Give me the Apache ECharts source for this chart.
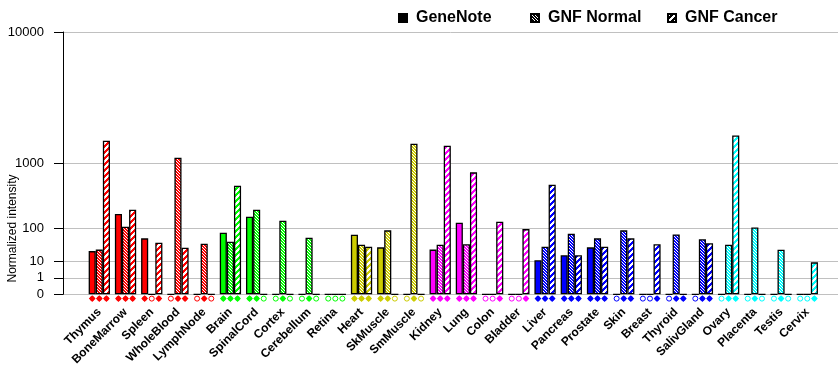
<!DOCTYPE html>
<html><head><meta charset="utf-8">
<script src="https://cdn.jsdelivr.net/npm/echarts@6/dist/echarts.min.js"></script>
<style>html,body{margin:0;padding:0;background:#fff}#c{width:840px;height:385px}</style>
</head><body><div id="c"></div>
<script>
const categories = ['Thymus','BoneMarrow','Spleen','WholeBlood','LymphNode','Brain','SpinalCord','Cortex','Cerebellum','Retina','Heart','SkMuscle','SmMuscle','Kidney','Lung','Colon','Bladder','Liver','Pancreas','Prostate','Skin','Breast','Thyroid','SalivGland','Ovary','Placenta','Testis','Cervix'];
const categoryColors = ['#FF0000','#FF0000','#FF0000','#FF0000','#FF0000','#00FF00','#00FF00','#00FF00','#00FF00','#00FF00','#CCCC00','#CCCC00','#CCCC00','#FF00FF','#FF00FF','#FF00FF','#FF00FF','#0000FF','#0000FF','#0000FF','#0000FF','#0000FF','#0000FF','#0000FF','#00FFFF','#00FFFF','#00FFFF','#00FFFF'];
// null = absent call (hollow marker); number = present call
const geneNote  = [25, 196, 59, null, null, 81, 175, null, null, null, 73, 33, null, 28, 134, null, null, 11.3, 17.8, 33, null, null, null, null, null, null, null, null];
const gnfNormal = [28, 110, null, 1143, 42, 48, 233, 147, 61, null, 39.5, 92, 1581, 39.5, 40.6, null, null, 34.4, 77, 59, 92, null, 74, 55.7, 39.5, 107, 27.8, null];
const gnfCancer = [1687, 233, 45, 32, null, 533, null, null, null, null, 34.4, null, null, 1514, 785, 140, 98, 550, 17.8, 34.4, 59, 40.6, 0, 43.4, 1892, null, null, 9.2];
const seriesNames = ['GeneNote','GNF Normal','GNF Cancer'];
const yTickValues = [0, 1, 10, 100, 1000, 10000];
const yTickLabels = ['0', '1', '10', '100', '1000', '10000'];

const FONT = '"Liberation Sans", Arial, sans-serif';
const BAR_W = 7.1;
const MARK_DY = 4.3;

// axis scale: each decade takes twice the height of the previous one
function toAxis(v) { return v <= 0 ? 0 : Math.pow(2, Math.log10(v)); }

const patternCache = {};
function makePattern(color, kind) {
  const key = color + kind;
  if (patternCache[key]) return patternCache[key];
  const n = kind === 'normal' ? 3 : 6;
  const c = document.createElement('canvas');
  c.width = n; c.height = n;
  const ctx = c.getContext('2d');
  ctx.fillStyle = color; ctx.fillRect(0, 0, n, n);
  ctx.fillStyle = '#fff';
  for (let y = 0; y < n; y++) for (let x = 0; x < n; x++) {
    if (kind === 'normal') { if (((x - y) % n + n) % n === 0) ctx.fillRect(x, y, 1, 1); }
    else { if ((x + y) % n < 3) ctx.fillRect(x, y, 1, 1); }
  }
  return (patternCache[key] = { image: c, repeat: 'repeat' });
}
const kinds = ['solid', 'normal', 'cancer'];
function fillFor(color, kind) { return kind === 'solid' ? color : makePattern(color, kind); }

const seriesValues = [geneNote, gnfNormal, gnfCancer];
const barSeries = seriesValues.map((arr, s) => ({
  type: 'bar', name: seriesNames[s], xAxisIndex: 1, yAxisIndex: 1,
  barWidth: BAR_W, barGap: '0%',
  itemStyle: { color: fillFor('#000', kinds[s]), borderColor: '#000', borderWidth: 1.3 },
  emphasis: { disabled: true },
  data: arr.map((v, i) => ({ value: toAxis(v == null ? 0 : v), itemStyle: { color: fillFor(categoryColors[i], kinds[s]) } }))
}));

const markerData = [];
seriesValues.forEach((arr, s) => arr.forEach((v, i) => markerData.push([i, 0, s, v == null ? 0 : 1])));

const markerSeries = {
  type: 'custom', xAxisIndex: 1, yAxisIndex: 1, clip: false, silent: true,
  encode: { x: 0, y: 1 },
  data: markerData,
  renderItem: (params, api) => {
    const cat = api.value(0), s = api.value(2), present = api.value(3);
    const p = api.coord([cat, 0]);
    const x = p[0] + (s - 1) * BAR_W, y = p[1] + MARK_DY;
    const col = categoryColors[cat];
    if (present) return { type: 'group', children: [
      { type: 'polygon', shape: { points: [[x, y - 3.4], [x + 3.4, y], [x, y + 3.4], [x - 3.4, y]] }, style: { fill: col } },
      { type: 'circle', shape: { cx: x, cy: y, r: 2.4 }, style: { fill: col } }
    ] };
    return { type: 'circle', shape: { cx: x, cy: y, r: 2.5 }, style: { fill: '#fff', stroke: col, lineWidth: 1 } };
  }
};

const tickPos = yTickValues.map(toAxis);
const legendX = [398, 530, 667];

const chart = echarts.init(document.getElementById('c'), null, { renderer: 'canvas' });
chart.setOption({
  animation: false,
  backgroundColor: '#fff',
  grid: [
    { left: 63, top: 32, width: 775, height: 262.3 },
    { left: 86.2, top: 32, width: 734.2, height: 262.3 }
  ],
  xAxis: [
    { gridIndex: 0, type: 'value', show: false, min: 0, max: 1 },
    { gridIndex: 1, type: 'category', data: categories,
      axisLine: { show: false }, axisTick: { show: false },
      axisLabel: { interval: 0, rotate: 45, margin: 16, fontSize: 12, fontWeight: 'bold', color: '#000', fontFamily: FONT } }
  ],
  yAxis: [
    { gridIndex: 0, type: 'value', min: 0, max: 16,
      axisLine: { show: true, lineStyle: { color: '#000', width: 1 } },
      axisTick: { show: true, length: 9, lineStyle: { color: '#000', width: 1 }, customValues: tickPos },
      axisLabel: { customValues: tickPos, margin: 19, fontSize: 13, color: '#000', fontFamily: FONT,
        formatter: v => { const k = tickPos.findIndex(t => Math.abs(t - v) < 1e-6); return k < 0 ? '' : yTickLabels[k]; } },
      splitLine: { show: true, lineStyle: { color: '#c0c0c0', width: 1 } } },
    { gridIndex: 1, type: 'value', min: 0, max: 16, show: false, splitLine: { show: false } }
  ],
  legend: seriesNames.map((n, i) => ({
    data: [n], left: legendX[i], top: 10, padding: 0, itemWidth: 8, itemHeight: 8, icon: 'rect',
    selectedMode: false,
    textStyle: { fontSize: 16, fontWeight: 'bold', color: '#000', fontFamily: FONT, padding: [0, 0, 0, 4] }
  })),
  graphic: [{ type: 'text', x: 13, y: 228.5, rotation: Math.PI / 2,
    style: { text: 'Normalized intensity', fontSize: 12, fontFamily: FONT, fill: '#000', align: 'center', verticalAlign: 'middle' } }],
  series: [...barSeries, markerSeries]
});
</script></body></html>
